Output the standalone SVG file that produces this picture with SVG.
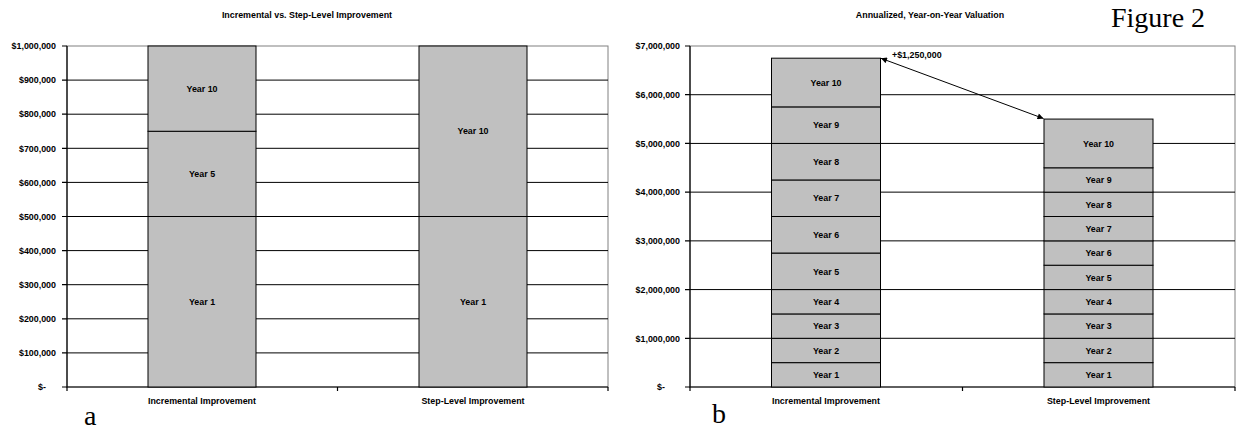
<svg xmlns="http://www.w3.org/2000/svg" width="1236" height="429" viewBox="0 0 1236 429">
<defs>
<style>
.t{font-family:"Liberation Sans",Arial,sans-serif;font-weight:bold;font-size:8.9px;fill:#000}
.m{text-anchor:middle}
.e{text-anchor:end}
.big{font-family:"Liberation Serif","Times New Roman",serif;font-size:28px;fill:#000}
.grid{stroke:#000;stroke-width:1;fill:none}
.frame{stroke:#808080;stroke-width:1;fill:#fff}
.axis{stroke:#000;stroke-width:1.2;fill:none}
.seg{fill:#C0C0C0;stroke:#000;stroke-width:1}
</style>
<marker id="ah" viewBox="0 0 10 10" refX="10" refY="5" markerWidth="7" markerHeight="6" markerUnits="userSpaceOnUse" orient="auto-start-reverse">
<path d="M0,0 L10,5 L0,10 z" fill="#000"/>
</marker>
</defs>
<rect width="1236" height="429" fill="#fff"/>

<!-- Chart a -->
<g id="chart-a">
<text class="t m" x="307" y="18">Incremental vs. Step-Level Improvement</text>
<rect class="frame" x="67" y="46" width="541" height="341"/>
<g class="grid">
<path d="M67,352.9H608M67,318.8H608M67,284.7H608M67,250.6H608M67,216.5H608M67,182.4H608M67,148.3H608M67,114.2H608M67,80.1H608"/>
</g>
<g class="axis">
<path d="M67,46V387H608"/>
<path d="M62,46H67M62,80.1H67M62,114.2H67M62,148.3H67M62,182.4H67M62,216.5H67M62,250.6H67M62,284.7H67M62,318.8H67M62,352.9H67M62,387H67"/>
<path d="M67,387V391M337.5,387V391M608,387V391"/>
</g>
<g class="t e">
<text x="56" y="49.2">$1,000,000</text>
<text x="56" y="83.3">$900,000</text>
<text x="56" y="117.4">$800,000</text>
<text x="56" y="151.5">$700,000</text>
<text x="56" y="185.6">$600,000</text>
<text x="56" y="219.7">$500,000</text>
<text x="56" y="253.8">$400,000</text>
<text x="56" y="287.9">$300,000</text>
<text x="56" y="322">$200,000</text>
<text x="56" y="356.1">$100,000</text>
<text x="46" y="390.2">$-</text>
</g>
<g id="a-inc-y1"><rect class="seg" x="148" y="216.5" width="108" height="170.5"/><text class="t m" x="202" y="305">Year 1</text></g>
<g id="a-inc-y5"><rect class="seg" x="148" y="131.25" width="108" height="85.25"/><text class="t m" x="202" y="177.1">Year 5</text></g>
<g id="a-inc-y10"><rect class="seg" x="148" y="46" width="108" height="85.25"/><text class="t m" x="202" y="91.8">Year 10</text></g>
<g id="a-step-y1"><rect class="seg" x="419" y="216.5" width="108" height="170.5"/><text class="t m" x="473" y="305">Year 1</text></g>
<g id="a-step-y10"><rect class="seg" x="419" y="46" width="108" height="170.5"/><text class="t m" x="473" y="134.4">Year 10</text></g>
<text class="t m" x="202" y="404">Incremental Improvement</text>
<text class="t m" x="473" y="404">Step-Level Improvement</text>
<text class="big" x="84" y="425">a</text>
</g>

<!-- Chart b -->
<g id="chart-b">
<text class="t m" x="930" y="18">Annualized, Year-on-Year Valuation</text>
<text class="big" x="1111" y="27">Figure 2</text>
<rect class="frame" x="690" y="46" width="545" height="341"/>
<g class="grid">
<path d="M690,338.29H1235M690,289.57H1235M690,240.86H1235M690,192.14H1235M690,143.43H1235M690,94.71H1235"/>
</g>
<g class="axis">
<path d="M690,46V387H1235"/>
<path d="M685,46H690M685,94.71H690M685,143.43H690M685,192.14H690M685,240.86H690M685,289.57H690M685,338.29H690M685,387H690"/>
<path d="M690,387V391M962.5,387V391M1235,387V391"/>
</g>
<g class="t e">
<text x="680" y="49.2">$7,000,000</text>
<text x="680" y="97.9">$6,000,000</text>
<text x="680" y="146.6">$5,000,000</text>
<text x="680" y="195.3">$4,000,000</text>
<text x="680" y="244.1">$3,000,000</text>
<text x="680" y="292.8">$2,000,000</text>
<text x="680" y="341.5">$1,000,000</text>
<text x="665" y="390.2">$-</text>
</g>
<g id="b-inc-y1"><rect class="seg" x="771.5" y="362.64" width="109" height="24.36"/><text class="t m" x="826" y="378">Year 1</text></g>
<g id="b-inc-y2"><rect class="seg" x="771.5" y="338.29" width="109" height="24.35"/><text class="t m" x="826" y="353.7">Year 2</text></g>
<g id="b-inc-y3"><rect class="seg" x="771.5" y="313.93" width="109" height="24.36"/><text class="t m" x="826" y="329.3">Year 3</text></g>
<g id="b-inc-y4"><rect class="seg" x="771.5" y="289.57" width="109" height="24.36"/><text class="t m" x="826" y="305">Year 4</text></g>
<g id="b-inc-y5"><rect class="seg" x="771.5" y="253.04" width="109" height="36.53"/><text class="t m" x="826" y="274.5">Year 5</text></g>
<g id="b-inc-y6"><rect class="seg" x="771.5" y="216.5" width="109" height="36.54"/><text class="t m" x="826" y="238">Year 6</text></g>
<g id="b-inc-y7"><rect class="seg" x="771.5" y="179.96" width="109" height="36.54"/><text class="t m" x="826" y="201.4">Year 7</text></g>
<g id="b-inc-y8"><rect class="seg" x="771.5" y="143.43" width="109" height="36.53"/><text class="t m" x="826" y="164.9">Year 8</text></g>
<g id="b-inc-y9"><rect class="seg" x="771.5" y="106.89" width="109" height="36.54"/><text class="t m" x="826" y="128.4">Year 9</text></g>
<g id="b-inc-y10"><rect class="seg" x="771.5" y="58.18" width="109" height="48.71"/><text class="t m" x="826" y="85.7">Year 10</text></g>

<g id="b-step-y1"><rect class="seg" x="1044" y="362.64" width="109" height="24.36"/><text class="t m" x="1098.5" y="378">Year 1</text></g>
<g id="b-step-y2"><rect class="seg" x="1044" y="338.29" width="109" height="24.35"/><text class="t m" x="1098.5" y="353.7">Year 2</text></g>
<g id="b-step-y3"><rect class="seg" x="1044" y="313.93" width="109" height="24.36"/><text class="t m" x="1098.5" y="329.3">Year 3</text></g>
<g id="b-step-y4"><rect class="seg" x="1044" y="289.57" width="109" height="24.36"/><text class="t m" x="1098.5" y="305">Year 4</text></g>
<g id="b-step-y5"><rect class="seg" x="1044" y="265.21" width="109" height="24.36"/><text class="t m" x="1098.5" y="280.6">Year 5</text></g>
<g id="b-step-y6"><rect class="seg" x="1044" y="240.86" width="109" height="24.35"/><text class="t m" x="1098.5" y="256.2">Year 6</text></g>
<g id="b-step-y7"><rect class="seg" x="1044" y="216.5" width="109" height="24.36"/><text class="t m" x="1098.5" y="231.9">Year 7</text></g>
<g id="b-step-y8"><rect class="seg" x="1044" y="192.14" width="109" height="24.36"/><text class="t m" x="1098.5" y="207.5">Year 8</text></g>
<g id="b-step-y9"><rect class="seg" x="1044" y="167.79" width="109" height="24.35"/><text class="t m" x="1098.5" y="183.2">Year 9</text></g>
<g id="b-step-y10"><rect class="seg" x="1044" y="119.07" width="109" height="48.72"/><text class="t m" x="1098.5" y="146.6">Year 10</text></g>

<text class="t m" x="826" y="404">Incremental Improvement</text>
<text class="t m" x="1098.5" y="404">Step-Level Improvement</text>
<text class="big" x="712" y="423">b</text>
</g>

<g id="connectors">
<line x1="881" y1="58.3" x2="1043.5" y2="118.5" stroke="#000" stroke-width="1" marker-start="url(#ah)" marker-end="url(#ah)"/>
<text class="t" x="892" y="58">+$1,250,000</text>
</g>
</svg>
